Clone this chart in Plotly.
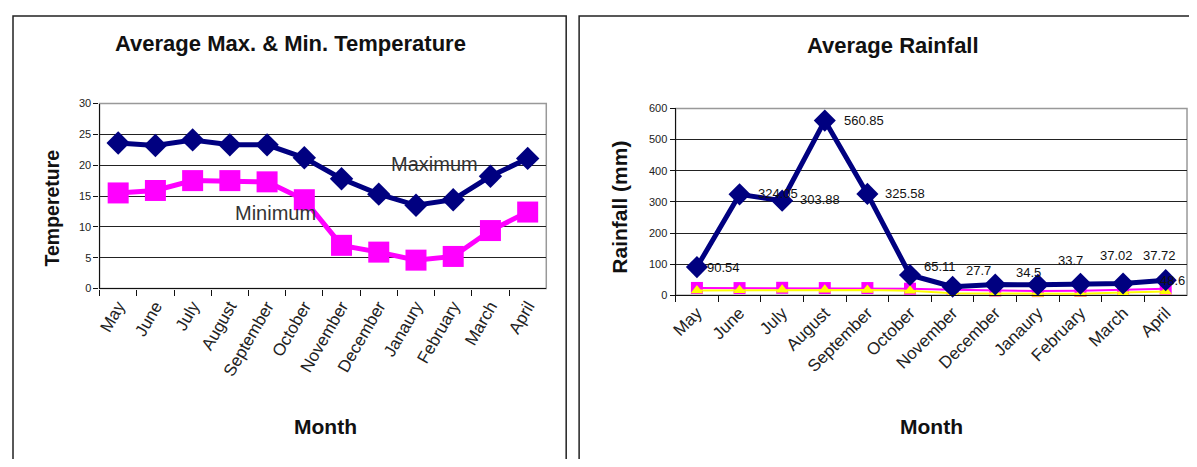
import plotly.graph_objects as go

# ---------------- data ----------------
months = ["May", "June", "July", "August", "September", "October",
          "November", "December", "Janaury", "February", "March", "April"]
temp_max = [23.6, 23.2, 24.1, 23.3, 23.3, 21.2, 17.8, 15.3, 13.5, 14.4, 18.2, 21.1]
temp_min = [15.5, 15.9, 17.5, 17.5, 17.3, 14.4, 7.0, 5.9, 4.6, 5.2, 9.4, 12.4]
rainfall = [90.54, 324.05, 303.88, 560.85, 325.58, 65.11, 27.7, 34.5, 33.7, 37.02, 37.72, 48.6]
rain_labels = ["90.54", "324.05", "303.88", "560.85", "325.58", "65.11",
               "27.7", "34.5", "33.7", "37.02", "37.72", "48.6"]
temp_ticks = [0, 5, 10, 15, 20, 25, 30]
rain_ticks = [0, 100, 200, 300, 400, 500, 600]

# label offsets (style only, pixels)
label_dx = [8, 16, 16, 17, 16, 12, 11, 19, 18, 18, 18, -8]
label_dy = [0, 1, 1, 0, 0, 9, 16, 12, 24, 28, 28, 0]

# page is 1197x467; body has an 8px margin, so the figure is 16px smaller
OFF = 8
W, H = 1197 - 2 * OFF, 467 - 2 * OFF
FONT = "Liberation Sans, Arial, sans-serif"
NAVY = "#000080"
MAGENTA = "#FF00FF"
YELLOW = "#FFFF00"


def px(x):
    return (x - OFF) / W


def py(y):
    return 1 - (y - OFF) / H


fig = go.Figure()

# ---- left chart: temperature ----
fig.add_trace(go.Scatter(
    x=months, y=temp_max, mode="lines+markers", xaxis="x", yaxis="y",
    line=dict(color=NAVY, width=5),
    marker=dict(symbol="diamond", size=18, color=NAVY),
    showlegend=False, cliponaxis=False))
fig.add_trace(go.Scatter(
    x=months, y=temp_min, mode="lines+markers", xaxis="x", yaxis="y",
    line=dict(color=MAGENTA, width=5),
    marker=dict(symbol="square", size=21, color=MAGENTA),
    showlegend=False, cliponaxis=False))

# ---- right chart: rainfall ----
fig.add_trace(go.Scatter(
    x=months, y=temp_max, mode="lines+markers", xaxis="x2", yaxis="y2",
    line=dict(color=MAGENTA, width=2),
    marker=dict(symbol="square", size=12, color=MAGENTA),
    showlegend=False, cliponaxis=False))
fig.add_trace(go.Scatter(
    x=months, y=temp_min, mode="lines+markers", xaxis="x2", yaxis="y2",
    line=dict(color=YELLOW, width=2),
    marker=dict(symbol="triangle-up", size=11, color=YELLOW),
    showlegend=False, cliponaxis=False))
fig.add_trace(go.Scatter(
    x=months, y=rainfall, mode="lines+markers", xaxis="x2", yaxis="y2",
    line=dict(color=NAVY, width=5),
    marker=dict(symbol="diamond", size=17, color=NAVY),
    showlegend=False, cliponaxis=False))

annotations = []
for m, v, t, dx, dy in zip(months, rainfall, rain_labels, label_dx, label_dy):
    annotations.append(dict(
        x=m, y=v, xref="x2", yref="y2", text=t, showarrow=False,
        xanchor="left", yanchor="middle", xshift=dx, yshift=dy,
        font=dict(family=FONT, size=13, color="#111")))

# titles
annotations += [
    dict(x=px(286), y=py(38), xref="paper", yref="paper",
         text="<b>Average Max. & Min. Temperature</b>", showarrow=False,
         xanchor="center", yanchor="middle",
         font=dict(family=FONT, size=22, color="#111")),
    dict(x=px(891), y=py(40), xref="paper", yref="paper",
         text="<b>Average Rainfall</b>", showarrow=False,
         xanchor="center", yanchor="middle",
         font=dict(family=FONT, size=22, color="#111")),
    dict(x=px(321), y=py(432), xref="paper", yref="paper",
         text="<b>Month</b>", showarrow=False, xanchor="center", yanchor="middle",
         font=dict(family=FONT, size=21, color="#111")),
    dict(x=px(930), y=py(432), xref="paper", yref="paper",
         text="<b>Month</b>", showarrow=False, xanchor="center", yanchor="middle",
         font=dict(family=FONT, size=21, color="#111")),
    dict(x=px(46), y=py(207), xref="paper", yref="paper",
         text="<b>Tempereture</b>", showarrow=False, textangle=-90,
         xanchor="center", yanchor="middle",
         font=dict(family=FONT, size=19.5, color="#111")),
    dict(x=px(617), y=py(206), xref="paper", yref="paper",
         text="<b>Rainfall (mm)</b>", showarrow=False, textangle=-90,
         xanchor="center", yanchor="middle",
         font=dict(family=FONT, size=21, color="#111")),
    dict(x=px(431), y=py(162), xref="paper", yref="paper",
         text="Maximum", showarrow=False, xanchor="center", yanchor="middle",
         font=dict(family=FONT, size=20, color="#333")),
    dict(x=px(271), y=py(212), xref="paper", yref="paper",
         text="Minimum", showarrow=False, xanchor="center", yanchor="middle",
         font=dict(family=FONT, size=20, color="#333")),
]

shapes = [
    # outer chart boxes
    dict(type="rect", xref="paper", yref="paper",
         x0=px(7), x1=px(563), y0=-0.05, y1=py(10),
         line=dict(color="#222", width=1.5), layer="below"),
    dict(type="rect", xref="paper", yref="paper",
         x0=px(576), x1=1.05, y0=-0.05, y1=py(10),
         line=dict(color="#222", width=1.5), layer="below"),
    # plot area borders (gray)
    dict(type="rect", xref="x domain", yref="y domain", x0=0, x1=1, y0=0, y1=1,
         line=dict(color="#999", width=1.5), layer="below"),
    dict(type="rect", xref="x2 domain", yref="y2 domain", x0=0, x1=1, y0=0, y1=1,
         line=dict(color="#999", width=1.5), layer="below"),
]

xcommon = dict(type="category", categoryorder="array", categoryarray=months,
               tickson="boundaries", ticks="outside", ticklen=6,
               tickcolor="#111", showline=True, linecolor="#111", linewidth=1.2,
               showgrid=False, zeroline=False, fixedrange=True,
               range=[-0.5, 11.5],
               tickfont=dict(family=FONT, size=17, color="#222"))
ycommon = dict(showgrid=True, gridcolor="#222", gridwidth=1,
               ticks="outside", ticklen=5, tickcolor="#111",
               showline=True, linecolor="#111", linewidth=1.2,
               zeroline=False, fixedrange=True,
               tickfont=dict(family=FONT, size=11, color="#222"))

fig.update_layout(
    width=W, height=H,
    margin=dict(l=0, r=0, t=0, b=0),
    paper_bgcolor="white", plot_bgcolor="white",
    showlegend=False,
    xaxis=dict(xcommon, domain=[px(94), px(543)], anchor="y", tickangle=-60),
    yaxis=dict(ycommon, domain=[py(290), py(100)], anchor="x",
               range=[0, 30], tickvals=temp_ticks),
    xaxis2=dict(xcommon, domain=[px(673), px(1187)], anchor="y2", tickangle=-45),
    yaxis2=dict(ycommon, domain=[py(297), py(105)], anchor="x2",
                range=[0, 600], tickvals=rain_ticks),
    annotations=annotations,
    shapes=shapes,
)

fig.write_html("out.html", config={"displayModeBar": False})
